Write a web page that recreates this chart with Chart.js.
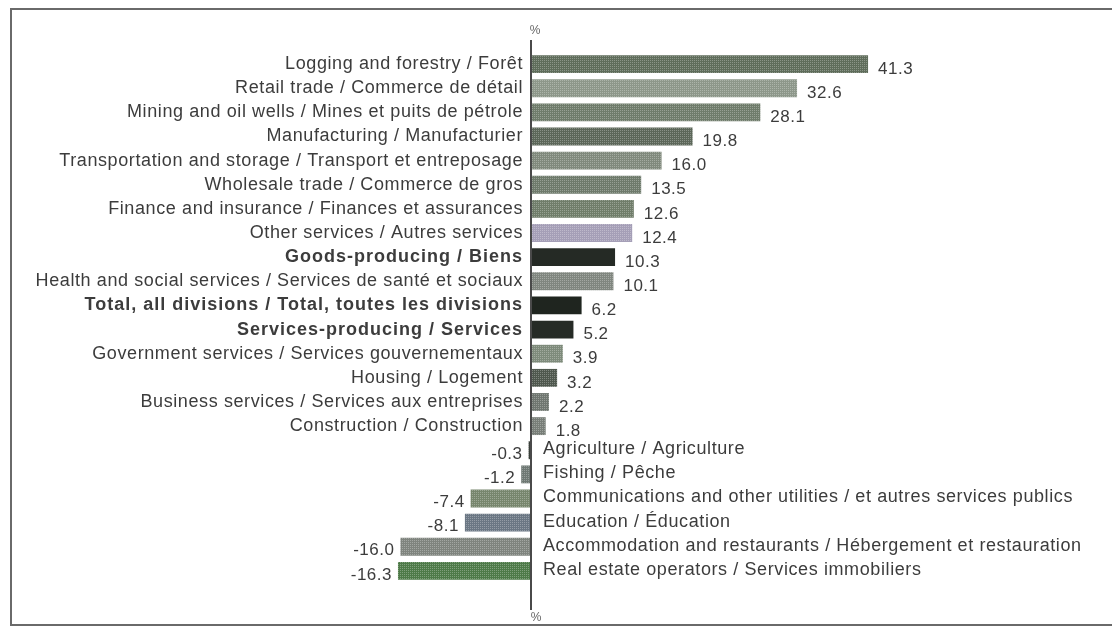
<!DOCTYPE html>
<html>
<head>
<meta charset="utf-8">
<script src="https://cdn.jsdelivr.net/npm/chart.js@4"></script>
<style>
  html, body { margin: 0; padding: 0; background: #ffffff; }
  #wrap { width: 1112px; height: 628px; position: relative; }
</style>
</head>
<body>
<div id="wrap"><canvas id="c" width="1112" height="628"></canvas></div>
<script>
const categories = [
  "Logging and forestry / Forêt",
  "Retail trade / Commerce de détail",
  "Mining and oil wells / Mines et puits de pétrole",
  "Manufacturing / Manufacturier",
  "Transportation and storage / Transport et entreposage",
  "Wholesale trade / Commerce de gros",
  "Finance and insurance / Finances et assurances",
  "Other services / Autres services",
  "Goods-producing / Biens",
  "Health and social services / Services de santé et sociaux",
  "Total, all divisions / Total, toutes les divisions",
  "Services-producing / Services",
  "Government services / Services gouvernementaux",
  "Housing / Logement",
  "Business services / Services aux entreprises",
  "Construction / Construction",
  "Agriculture / Agriculture",
  "Fishing / Pêche",
  "Communications and other utilities / et autres services publics",
  "Education / Éducation",
  "Accommodation and restaurants / Hébergement et restauration",
  "Real estate operators / Services immobiliers"
];
const values = [41.3, 32.6, 28.1, 19.8, 16.0, 13.5, 12.6, 12.4, 10.3, 10.1, 6.2, 5.2, 3.9, 3.2, 2.2, 1.8, -0.3, -1.2, -7.4, -8.1, -16.0, -16.3];
const summaryRows = ["Goods-producing / Biens", "Total, all divisions / Total, toutes les divisions", "Services-producing / Services"];
const axisUnit = "%";

// styling
const barColors = ["#5f6d5b","#8d978a","#6f7c6b","#5c6759","#80897c","#6e7a6b","#707d6a","#a59fb7","#252a25","#80867f","#1f251f","#262b26","#7e8b7b","#4f584e","#6f7670","#787e78","#3a403a","#6e7873","#77866d","#6b7784","#7f847e","#4e7a48"];
const textColor = "#3c3c3c";
const FONT = '"Liberation Sans", Arial, sans-serif';

function halftone(color, solid) {
  if (solid) return color;
  const c = document.createElement('canvas');
  c.width = 4; c.height = 4;
  const g = c.getContext('2d');
  g.fillStyle = color;
  g.fillRect(0, 0, 4, 4);
  g.fillStyle = 'rgba(255,255,255,0.28)';
  g.fillRect(0, 0, 1, 1); g.fillRect(2, 2, 1, 1);
  g.fillRect(2, 0, 1, 1); g.fillRect(0, 2, 1, 1);
  return g.createPattern(c, 'repeat');
}

const labelPlugin = {
  id: 'labelPlugin',
  beforeDraw(chart) {
    const ctx = chart.ctx;
    ctx.save();
    ctx.strokeStyle = "#6a6a6a";
    ctx.lineWidth = 2;
    ctx.strokeRect(11, 9, 1120, 616);
    ctx.restore();
  },
  afterDatasetsDraw(chart) {
    const ctx = chart.ctx;
    const xs = chart.scales.x;
    const area = chart.chartArea;
    const x0 = xs.getPixelForValue(0);
    ctx.save();
    // zero axis
    ctx.strokeStyle = "#4a4a4a";
    ctx.lineWidth = 2;
    ctx.beginPath();
    ctx.moveTo(x0, area.top - 12);
    ctx.lineTo(x0, area.bottom + 27);
    ctx.stroke();
    // % units
    ctx.fillStyle = "#666";
    ctx.font = "12px " + FONT;
    ctx.textAlign = "center";
    ctx.textBaseline = "middle";
    ctx.fillText(axisUnit, x0 + 4, area.top - 21);
    ctx.fillText(axisUnit, x0 + 5, area.bottom + 35);

    const meta = chart.getDatasetMeta(0);
    meta.data.forEach((bar, i) => {
      const v = values[i];
      const cat = categories[i];
      const bold = summaryRows.includes(cat);
      ctx.fillStyle = textColor;
      ctx.letterSpacing = bold ? "1.0px" : "0.6px";
      ctx.font = (bold ? "bold " : "") + "18px " + FONT;
      ctx.textBaseline = "middle";
      const valTxt = v.toFixed(1);
      if (v >= 0) {
        ctx.textAlign = "right";
        ctx.fillText(cat, x0 - 8, bar.y);
        ctx.letterSpacing = "0.5px";
        ctx.font = "17px " + FONT;
        ctx.textAlign = "left";
        ctx.fillText(valTxt, bar.x + 10, bar.y + 5);
      } else {
        ctx.textAlign = "left";
        ctx.fillText(cat, x0 + 12, bar.y - 1);
        ctx.letterSpacing = "0.5px";
        ctx.font = "17px " + FONT;
        ctx.textAlign = "right";
        ctx.fillText(valTxt, bar.x - 6, bar.y + 4);
      }
    });
    ctx.restore();
  }
};

new Chart(document.getElementById('c'), {
  type: 'bar',
  data: {
    labels: categories,
    datasets: [{
      data: values,
      backgroundColor: barColors.map((c, i) => halftone(c, summaryRows.includes(categories[i]))),
      borderWidth: 0,
      barPercentage: 0.74,
      categoryPercentage: 1.0
    }]
  },
  options: {
    indexAxis: 'y',
    responsive: false,
    animation: false,
    layout: { padding: { left: 25, right: 75, top: 52, bottom: 45 } },
    plugins: { legend: { display: false }, tooltip: { enabled: false } },
    scales: {
      x: { type: 'linear', min: -62, max: 62, display: false },
      y: { type: 'category', display: false, offset: true }
    }
  },
  plugins: [labelPlugin]
});
</script>
</body>
</html>
